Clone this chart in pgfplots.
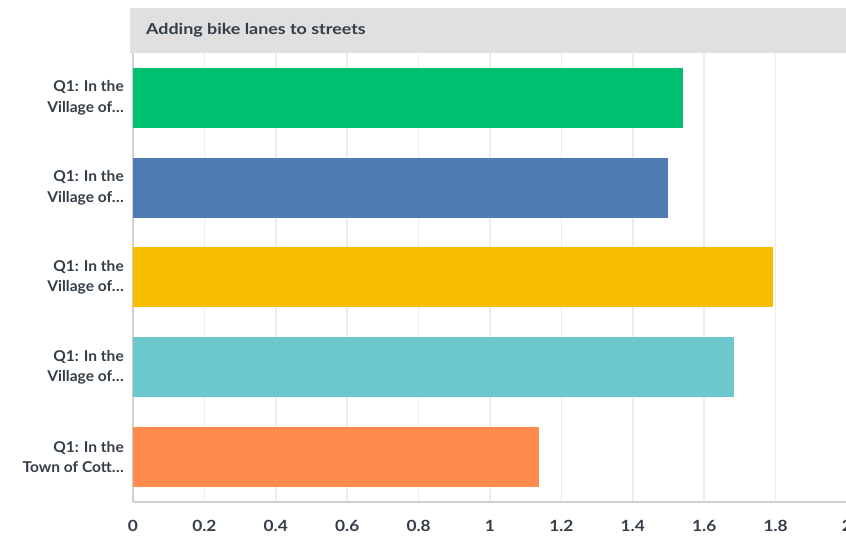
\documentclass[border=0pt]{standalone}
\usepackage{pgfplots}
\pgfplotsset{compat=1.18}
\usepackage{fontspec}
\setmainfont{Lato}
\newfontfamily\titlefont{Lato}[FakeStretch=1.18]
\newfontfamily\labelfont{Lato}[FakeStretch=1.04]
\newfontfamily\tickfont{Lato}[FakeStretch=1.12]
\definecolor{txt}{HTML}{333E48}
\definecolor{cgreen}{HTML}{00BF6F}
\definecolor{cblue}{HTML}{507CB6}
\definecolor{cyellow}{HTML}{F9BE00}
\definecolor{cteal}{HTML}{6BC8CD}
\definecolor{corange}{HTML}{FF8B4F}
\definecolor{titlegray}{HTML}{E0E0E0}
\definecolor{gridgray}{HTML}{EDEDED}
\definecolor{axisgray}{HTML}{D0D0D0}
\begin{document}
\begin{tikzpicture}
\begin{axis}[name=ax, at={(0,0)}, anchor=south west,
  scale only axis, width=714bp, height=449bp,
  xbar, xmin=0, xmax=2, ymin=-0.5, ymax=4.5,
  bar width=60bp,
  xtick={0,0.2,0.4,0.6,0.8,1,1.2,1.4,1.6,1.8,2},
  xticklabels={0,0.2,0.4,0.6,0.8,1,1.2,1.4,1.6,1.8,2},
  ytick={0,1,2,3,4},
  yticklabels={{Q1: In the\\Town of Cott…},{Q1: In the\\Village of…},{Q1: In the\\Village of…},{Q1: In the\\Village of…},{Q1: In the\\Village of…}},
  axis lines*=left,
  axis line style={draw=axisgray, line width=1.2bp, -},
  xmajorgrids, grid style={draw=gridgray, line width=1.5bp},
  major tick length=0pt, tick style={draw=none},
  /pgf/number format/assume math mode=true,
  xticklabel style={font=\tickfont\bfseries\fontsize{15.5}{18}\selectfont, text=txt, anchor=base, yshift=-29bp},
  yticklabel style={font=\labelfont\bfseries\fontsize{15}{20.5}\selectfont, text=txt, align=right, anchor=east, inner sep=0pt, xshift=-9bp},
]
\addplot[fill=cgreen, draw=none, bar shift=0pt] coordinates {(1.541,4)};
\addplot[fill=cblue, draw=none, bar shift=0pt] coordinates {(1.499,3)};
\addplot[fill=cyellow, draw=none, bar shift=0pt] coordinates {(1.793,2)};
\addplot[fill=cteal, draw=none, bar shift=0pt] coordinates {(1.683,1)};
\addplot[fill=corange, draw=none, bar shift=0pt] coordinates {(1.137,0)};
\end{axis}
\fill[titlegray] ([xshift=-3bp]ax.north west) rectangle ([xshift=5bp,yshift=45bp]ax.north east);
\node[anchor=base west, font=\titlefont\bfseries\fontsize{15.2}{18}\selectfont, text=txt, inner sep=0pt] at ([xshift=13bp,yshift=18.5bp]ax.north west) {Adding bike lanes to streets};
\pgfresetboundingbox
\path ([xshift=-133bp,yshift=-34bp]ax.south west) rectangle ++(846bp,536bp);
\end{tikzpicture}
\end{document}
